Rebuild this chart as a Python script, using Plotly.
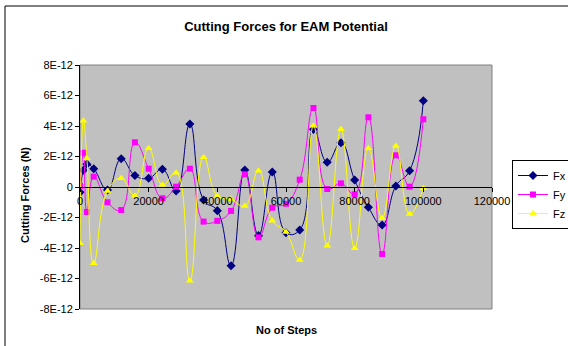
import plotly.graph_objects as go

# Simulation steps at which forces were sampled
steps = [0, 1000, 2000, 4000, 8000, 12000, 16000, 20000, 24000, 28000,
         32000, 36000, 40000, 44000, 48000, 52000, 56000, 60000, 64000,
         68000, 72000, 76000, 80000, 84000, 88000, 92000, 96000, 100000]

# Cutting force components, in units of 1E-12 N
fx_pn = [-0.35, 1.1, 1.5, 1.2, -0.2, 1.85, 0.75, 0.57, 1.16, -0.26,
         4.13, -0.85, -1.55, -5.16, 1.11, -3.19, 0.98, -3.0, -2.82,
         3.78, 1.62, 2.9, 0.46, -1.33, -2.49, 0.07, 1.07, 5.66]
fy_pn = [0.07, 2.25, -1.64, 0.68, -1.0, -1.51, 2.93, 1.2, -0.74, 0.02,
         1.2, -2.27, -2.22, -1.57, 0.83, -3.3, -1.36, -1.1, 0.48,
         5.18, -0.13, 0.24, -0.48, 4.57, -4.39, 2.08, 0.02, 4.44]
fz_pn = [-3.69, 4.35, 1.88, -5.0, -0.26, 0.57, -0.57, 2.54, 0.13, 0.94,
         -6.15, 1.95, -0.59, -0.81, -1.25, 1.07, -2.21, -2.95, -4.79,
         4.02, -3.85, 3.78, -4.02, 2.54, -2.05, 2.69, -1.77, -0.09]

y_ticks = [-8, -6, -4, -2, 0, 2, 4, 6, 8]
y_tick_text = ["-8E-12", "-6E-12", "-4E-12", "-2E-12", "0",
               "2E-12", "4E-12", "6E-12", "8E-12"]
x_ticks = [0, 20000, 40000, 60000, 80000, 100000, 120000]
x_tick_text = ["0", "20000", "40000", "60000", "80000", "100000", "120000"]

FONT = "Liberation Sans, Arial, sans-serif"

series = [
    ("Fx", fx_pn, "#000080", "diamond", 7),
    ("Fy", fy_pn, "#FF00FF", "square", 6),
    ("Fz", fz_pn, "#FFFF00", "triangle-up", 7),
]

fig = go.Figure()
for name, vals, color, symbol, size in series:
    fig.add_trace(go.Scatter(
        x=steps,
        y=[v * 1e-12 for v in vals],
        name=name,
        mode="lines+markers",
        line=dict(color=color, width=1, shape="spline", smoothing=1.3),
        marker=dict(symbol=symbol, size=size, color=color,
                    line=dict(width=0)),
    ))

fig.update_layout(
    width=568, height=346,
    margin=dict(l=80, r=76, t=65, b=37, autoexpand=False),
    paper_bgcolor="white",
    plot_bgcolor="#C0C0C0",
    font=dict(family=FONT, size=11, color="black"),
    title=dict(text="<b>Cutting Forces for EAM Potential</b>",
               x=0.5, xref="paper", xanchor="center",
               y=1 - 26 / 346, yanchor="middle",
               font=dict(size=13, family=FONT)),
    xaxis=dict(
        range=[0, 120000], tickvals=x_ticks, ticktext=x_tick_text,
        anchor="free", position=0.5,
        showline=True, linecolor="black", linewidth=1,
        ticks="outside", ticklen=4, tickcolor="black",
        showgrid=False, zeroline=False,
        tickfont=dict(size=11),
    ),
    yaxis=dict(
        range=[-8e-12, 8e-12],
        tickvals=[t * 1e-12 for t in y_ticks], ticktext=y_tick_text,
        showline=True, linecolor="black", linewidth=1,
        ticks="outside", ticklen=4, tickcolor="black",
        showgrid=False, zeroline=False,
        tickfont=dict(size=11),
    ),
    legend=dict(
        x=(512 - 80) / 412, xanchor="left",
        y=(309 - 160) / 244, yanchor="top",
        bordercolor="black", borderwidth=1, bgcolor="white",
        font=dict(size=11), itemwidth=30, tracegroupgap=0,
    ),
    showlegend=True,
    shapes=[
        # plot area frame
        dict(type="rect", xref="paper", yref="paper", x0=0, x1=1, y0=0, y1=1,
             line=dict(color="#808080", width=1), layer="below"),
        # chart area frame
        dict(type="rect", xref="paper", yref="paper",
             x0=(5 - 80) / 412, x1=(575 - 80) / 412,
             y0=(309 - 352) / 244, y1=(309 - 6) / 244,
             line=dict(color="black", width=1), layer="below"),
    ],
    annotations=[
        dict(text="<b>No of Steps</b>", xref="paper", yref="paper",
             x=(286 - 80) / 412, y=(309 - 330) / 244,
             xanchor="center", yanchor="middle", showarrow=False,
             font=dict(size=11)),
        dict(text="<b>Cutting Forces (N)</b>", xref="paper", yref="paper",
             x=(25 - 80) / 412, y=(309 - 195) / 244, textangle=-90,
             xanchor="center", yanchor="middle", showarrow=False,
             font=dict(size=11)),
    ],
)

fig.write_html("out.html")
